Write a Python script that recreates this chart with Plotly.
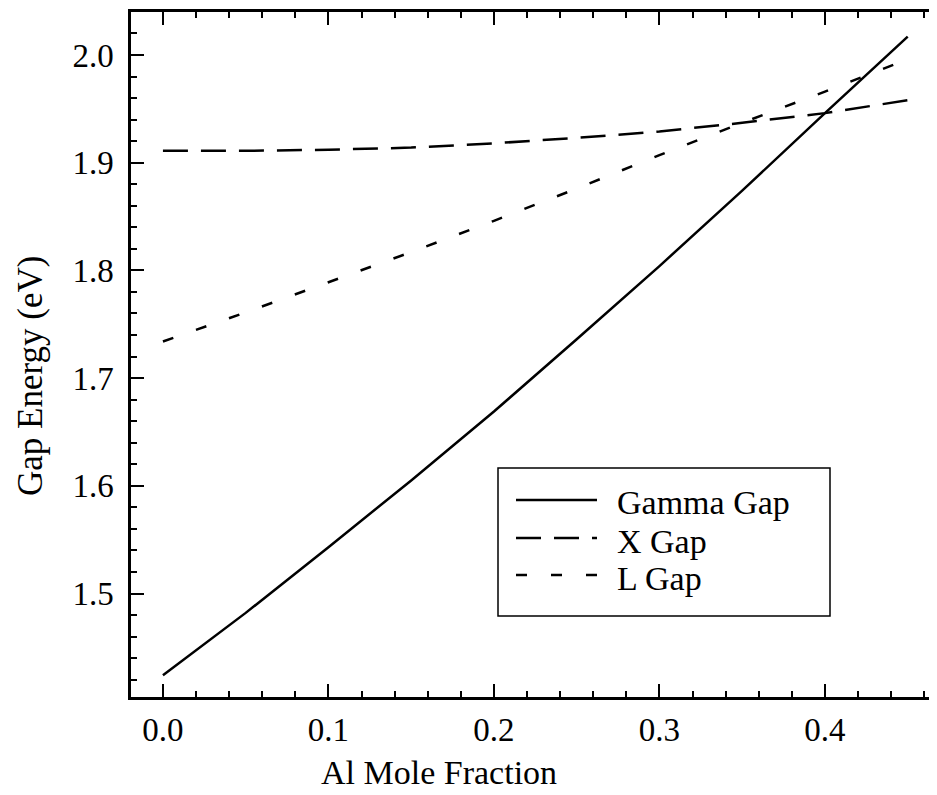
import plotly.graph_objects as go

# ---- data ----
al_fraction = [0.0, 0.05, 0.10, 0.15, 0.20, 0.25, 0.30, 0.35, 0.40, 0.45]
gamma_gap = [1.424, 1.482, 1.543, 1.605, 1.669, 1.736, 1.804, 1.874, 1.946, 2.017]
x_gap = [1.911, 1.911, 1.912, 1.914, 1.918, 1.923, 1.929, 1.937, 1.946, 1.958]
l_gap = [1.734, 1.761, 1.789, 1.817, 1.846, 1.876, 1.907, 1.937, 1.966, 1.996]

series_names = ["Gamma Gap", "X Gap", "L Gap"]
x_tickvals = [0.0, 0.1, 0.2, 0.3, 0.4]
x_ticktext = ["0.0", "0.1", "0.2", "0.3", "0.4"]
y_tickvals = [1.5, 1.6, 1.7, 1.8, 1.9, 2.0]
y_ticktext = ["1.5", "1.6", "1.7", "1.8", "1.9", "2.0"]
x_title = "Al Mole Fraction"
y_title = "Gap Energy (eV)"

# ---- layout geometry (screen pixels of the reference) ----
OFF = 8  # default page body margin
W, H = 937 - OFF, 795 - OFF
L_PX, R_PX, T_PX, B_PX = 131, 937, 12, 697


def px(x):
    return (x - L_PX) / (R_PX - L_PX)


def py(y):
    return (B_PX - y) / (B_PX - T_PX)


FONT = "Liberation Serif, Times New Roman, serif"
dashes = ["solid", "25px,13px", "11px,24px"]
LW = 2.5

fig = go.Figure()
for name, ys, dash in zip(series_names, [gamma_gap, x_gap, l_gap], dashes):
    fig.add_trace(go.Scatter(
        x=al_fraction, y=ys, mode="lines", name=name,
        line=dict(color="black", width=LW, dash=dash),
        showlegend=False,
    ))

XR = [-0.0193, 0.4677]
YR = [1.4039, 2.0399]

minor = dict(ticks="inside", ticklen=6, tickwidth=2, tickcolor="black",
             showgrid=False, dtick=0.02, tick0=0)
axis_common = dict(
    ticks="inside", ticklen=13, tickwidth=2, tickcolor="black",
    showgrid=False, zeroline=False,
    tickfont=dict(family=FONT, size=33, color="black"),
    minor=minor,
)

fig.update_layout(
    width=W, height=H,
    margin=dict(l=L_PX - OFF, r=0, t=T_PX - OFF, b=H - (B_PX - OFF), pad=0),
    paper_bgcolor="white", plot_bgcolor="white",
    showlegend=False,
    xaxis=dict(
        range=XR, tickvals=x_tickvals, ticktext=x_ticktext,
        showline=True, linewidth=LW, linecolor="black", mirror="ticks",
        ticklabelstandoff=2, **axis_common,
    ),
    yaxis=dict(
        range=YR, tickvals=y_tickvals, ticktext=y_ticktext,
        showline=True, linewidth=LW, linecolor="black",
        ticklabelstandoff=8, **axis_common,
    ),
    yaxis2=dict(
        range=YR, overlaying="y", side="right", showticklabels=False,
        tickvals=y_tickvals, showline=False, **axis_common,
    ),
)

annotations = [
    dict(text=x_title, xref="paper", yref="paper", x=px(439), y=py(773),
         xanchor="center", yanchor="middle", showarrow=False,
         font=dict(family=FONT, size=34, color="black")),
    dict(text=y_title, xref="paper", yref="paper", x=px(30), y=py(376),
         xanchor="center", yanchor="middle", showarrow=False, textangle=-90,
         font=dict(family=FONT, size=35, color="black")),
]

# ---- legend box drawn by hand (longer sample lines than plotly's legend) ----
shapes = [dict(type="rect", xref="paper", yref="paper",
               x0=px(498), x1=px(830), y0=py(616), y1=py(468),
               line=dict(color="black", width=1.5), fillcolor="white", layer="above")]
row_y = [500, 538, 575]
for name, dash, yy in zip(series_names, dashes, row_y):
    shapes.append(dict(type="line", xref="paper", yref="paper",
                       x0=px(516), x1=px(597), y0=py(yy), y1=py(yy),
                       line=dict(color="black", width=LW, dash=dash), layer="above"))
    annotations.append(dict(text=name, xref="paper", yref="paper",
                            x=px(615), y=py(yy + 3), xanchor="left", yanchor="middle",
                            showarrow=False,
                            font=dict(family=FONT, size=34, color="black")))

fig.update_layout(shapes=shapes, annotations=annotations)

fig.write_html("out.html")
